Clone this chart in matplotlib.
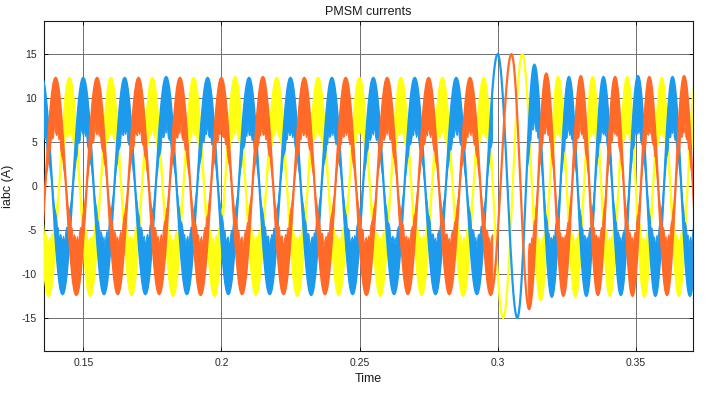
"""
PMSM currents - three phase currents with a short transient near t = 0.3 s.
"""

import matplotlib
matplotlib.use("Agg")
import matplotlib.pyplot as plt
import numpy as np
from matplotlib.ticker import FuncFormatter

# Extrema (time [s], current [A]), per phase
BLUE_T = [0.1275, 0.135, 0.1425, 0.150, 0.1575, 0.165, 0.1725, 0.180, 0.1875,
          0.195, 0.2025, 0.210, 0.2175, 0.225, 0.2325, 0.240, 0.2475, 0.255,
          0.2625, 0.270, 0.2775, 0.285, 0.2925, 0.300, 0.3071, 0.3133, 0.3196,
          0.3258, 0.3321, 0.3383, 0.3446, 0.3508, 0.3571, 0.3633, 0.3696, 0.3758]
BLUE_V = [-12.3, 12.3, -12.3, 12.3, -12.3, 12.3, -12.3, 12.4, -12.3, 12.3,
          -12.3, 12.3, -12.3, 12.3, -12.4, 12.3, -12.3, 12.3, -12.3, 12.3,
          -12.3, 12.3, -12.3, 15.0, -15.0, 13.8, -12.6, 12.4, -12.5, 12.4,
          -12.4, 12.5, -12.5, 12.4, -12.5, 12.4]

ORANGE_T = [0.1325, 0.140, 0.1475, 0.155, 0.1625, 0.170, 0.1775, 0.185, 0.1925,
            0.200, 0.2075, 0.215, 0.2225, 0.230, 0.2375, 0.245, 0.2525, 0.260,
            0.2675, 0.275, 0.2825, 0.290, 0.2975, 0.305, 0.3114, 0.3176, 0.3238,
            0.3301, 0.3363, 0.3425, 0.3488, 0.3549, 0.3613, 0.3675, 0.3738]
ORANGE_V = [-12.3, 12.3, -12.4, 12.3, -12.3, 12.3, -12.3, 12.3, -12.4, 12.3,
            -12.3, 12.4, -12.3, 12.3, -12.3, 12.3, -12.4, 12.3, -12.3, 12.3,
            -12.3, 12.3, -12.4, 15.0, -14.0, 12.8, -12.5, 12.5, -12.4, 12.4,
            -12.5, 12.4, -12.4, 12.5, -12.4]

YELLOW_T = [0.130, 0.1375, 0.145, 0.1525, 0.160, 0.1675, 0.175, 0.1825, 0.190,
            0.1975, 0.205, 0.2125, 0.220, 0.2275, 0.235, 0.2425, 0.250, 0.2575,
            0.265, 0.2725, 0.280, 0.2875, 0.295, 0.302, 0.3089, 0.3156, 0.3219,
            0.3281, 0.3344, 0.3406, 0.3469, 0.3531, 0.3594, 0.3656, 0.3719]
YELLOW_V = [12.3, -12.5, 12.3, -12.5, 12.3, -12.4, 12.3, -12.5, 12.3, -12.5,
            12.4, -12.4, 12.3, -12.5, 12.3, -12.4, 12.3, -12.5, 12.3, -12.4,
            12.3, -12.5, 12.3, -15.0, 15.0, -13.0, 12.4, -12.6, 12.4, -12.5,
            12.4, -12.6, 12.3, -12.5, 12.4]

# shape of one half cycle between two extrema (0 -> 1)
HALF_WAVE = [0.0, 0.0062, 0.0245, 0.0545, 0.0955, 0.1464, 0.2061, 0.2730,
             0.3455, 0.4218, 0.5, 0.5782, 0.6545, 0.7270, 0.7939, 0.8536,
             0.9045, 0.9455, 0.9755, 0.9938, 1.0]

# switching ripple band (fraction pulled toward zero), absent in the transient
RIPPLE_PATTERN = [1.0, 0.9, 1.0, 0.82, 0.97, 1.0, 0.78, 0.95, 1.0, 0.88, 0.98, 0.8, 1.0]
RIPPLE_DEPTH = 0.53
SMOOTH_START = 0.2985
SMOOTH_END = 0.3108

COLORS = {"yellow": "#FFFF14", "blue": "#1E9AEC", "orange": "#FF6A29"}

plt.rcParams.update({
    "font.family": ["Liberation Sans", "DejaVu Sans"],
    "axes.unicode_minus": False,
})


def build_wave(times, values):
    frac = np.linspace(0.0, 1.0, len(HALF_WAVE))[:-1]
    shape = np.array(HALF_WAVE[:-1])
    ts, vs = [], []
    for t0, t1, v0, v1 in zip(times[:-1], times[1:], values[:-1], values[1:]):
        ts.append(t0 + (t1 - t0) * frac)
        vs.append(v0 + (v1 - v0) * shape)
    ts.append([times[-1]])
    vs.append([values[-1]])
    t = np.concatenate(ts)
    v = np.concatenate(vs)
    pattern = np.resize(np.array(RIPPLE_PATTERN), len(t))
    rippled = (t < SMOOTH_START) | (t > SMOOTH_END)
    inner = np.where(rippled, v * (1 - RIPPLE_DEPTH * pattern), v)
    return t, v, inner, rippled


fig = plt.figure(figsize=(7.09, 3.95), dpi=100)
ax = fig.add_axes([0.0621, 0.1114, 0.9153, 0.8354])

for times, values, key in [(YELLOW_T, YELLOW_V, "yellow"),
                           (BLUE_T, BLUE_V, "blue"),
                           (ORANGE_T, ORANGE_V, "orange")]:
    t, v, inner, rippled = build_wave(times, values)
    ax.fill_between(t, v, inner, where=rippled, color=COLORS[key], lw=0.7, zorder=3)
    ax.plot(t, v, color=COLORS[key], lw=1.6, zorder=3)

ax.set_xlim(0.1358, 0.3707)
ax.set_ylim(-18.75, 18.75)
ax.set_xticks([0.15, 0.2, 0.25, 0.3, 0.35])
ax.set_yticks([-15, -10, -5, 0, 5, 10, 15])
ax.xaxis.set_major_formatter(FuncFormatter(lambda x, _: f"{x:g}"))
ax.grid(True, color="#6e6e6e", lw=0.7, zorder=0)
ax.set_axisbelow(True)
ax.tick_params(direction="in", length=3, width=0.6, top=True, right=True,
               labelsize=7.5, labelcolor="#262626", pad=5)
for sp in ax.spines.values():
    sp.set_linewidth(0.8)
    sp.set_color("#1a1a1a")

ax.set_title("PMSM currents", fontsize=9, pad=4, color="#1a1a1a")
ax.set_xlabel("Time", fontsize=9, labelpad=4, color="#1a1a1a")
ax.set_ylabel("iabc (A)", fontsize=9, labelpad=6, color="#1a1a1a")

fig.savefig("out.png", dpi=100)
